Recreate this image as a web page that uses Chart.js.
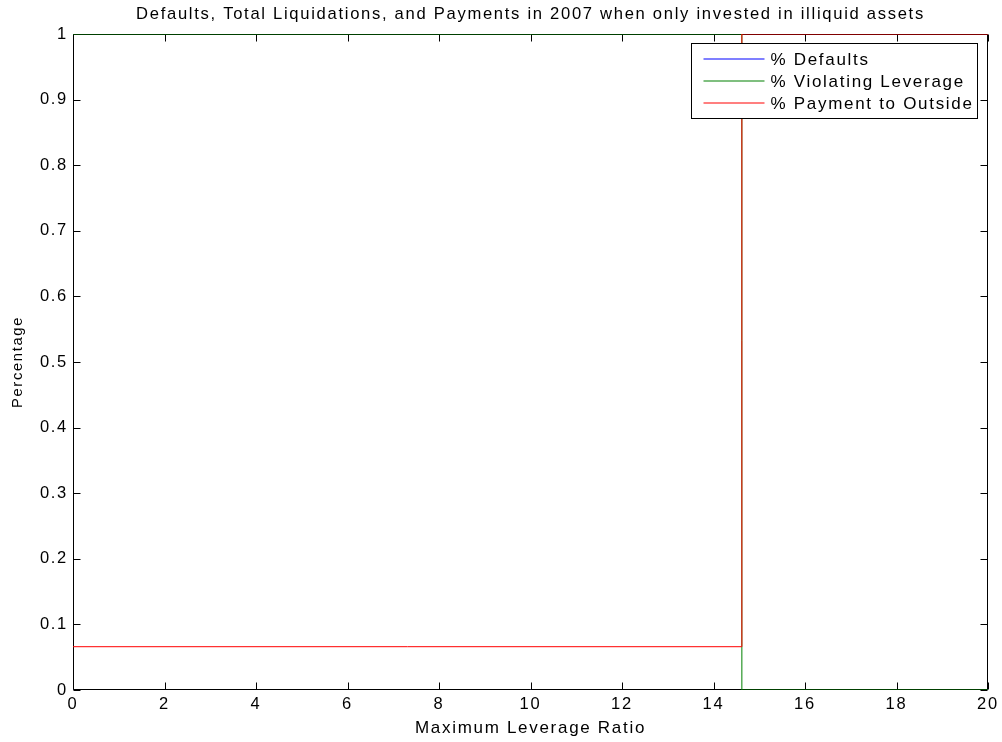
<!DOCTYPE html>
<html>
<head>
<meta charset="utf-8">
<script src="https://cdn.jsdelivr.net/npm/chart.js@4"></script>
<style>
  html, body { margin: 0; padding: 0; background: #fff; }
  #wrap { width: 1002px; height: 742px; }
</style>
</head>
<body>
<div id="wrap"><canvas id="chart" width="1002" height="742"></canvas></div>
<script>
// ---- data ----
const leverage = [0, 14.62, 20];
const pctDefaults = [0, 0, 0];
const pctViolating = [1, 0, 0];
const pctPayment = [0.066, 1, 1];

const seriesNames = ["% Defaults", "% Violating Leverage", "% Payment to Outside"];
const seriesColors = ["#0000ff", "#008000", "#ff0000"];

const FONT = "'Liberation Sans', Arial, Helvetica, sans-serif";
const SPACING = "1.7px";   // the old matlab export renders text quite loose

const toPoints = (ys) => leverage.map((x, i) => ({ x: x, y: ys[i] }));

// widen the glyph spacing for everything chart.js writes
const looseText = {
  id: "looseText",
  beforeUpdate(chart) { chart.ctx.letterSpacing = SPACING; },
  beforeLayout(chart) { chart.ctx.letterSpacing = SPACING; },
  beforeDraw(chart) { chart.ctx.letterSpacing = SPACING; },
};

// MATLAB-ish axes box with inward ticks on all four sides
const boxAxes = {
  id: "boxAxes",
  afterDatasetDraw(chart, args) {
    if (args.index !== 0) return;
    const { ctx, chartArea: a, scales } = chart;
    const L = Math.round(a.left) + 0.5, R = Math.round(a.right) - 0.5;
    const T = Math.round(a.top) + 0.5, B = Math.round(a.bottom) - 0.5;
    const len = 7;
    ctx.save();
    ctx.strokeStyle = "#000";
    ctx.lineWidth = 1;
    ctx.beginPath();
    ctx.rect(L, T, R - L, B - T);
    scales.x.ticks.forEach((t) => {
      const px = Math.round(scales.x.getPixelForValue(t.value)) + 0.5;
      ctx.moveTo(px, B); ctx.lineTo(px, B - len);
      ctx.moveTo(px, T); ctx.lineTo(px, T + len);
    });
    scales.y.ticks.forEach((t) => {
      const py = Math.round(scales.y.getPixelForValue(t.value)) + 0.5;
      ctx.moveTo(L, py); ctx.lineTo(L + len, py);
      ctx.moveTo(R, py); ctx.lineTo(R - len, py);
    });
    ctx.stroke();
    ctx.restore();
  },
};

// legend box inside the top-right corner of the axes
const insideLegend = {
  id: "insideLegend",
  afterDraw(chart) {
    const { ctx, chartArea: a } = chart;
    ctx.save();
    ctx.letterSpacing = SPACING;
    ctx.font = "17px " + FONT;
    const textW = Math.max(...seriesNames.map((n) => ctx.measureText(n).width));
    const w = Math.round(79 + textW + 4);
    const rowH = 22;
    const h = 75;
    const x0 = Math.round(a.right - 11 - w) + 0.5;
    const y0 = Math.round(a.top + 9) + 0.5;
    ctx.fillStyle = "#fff";
    ctx.fillRect(x0, y0, w, h);
    ctx.strokeStyle = "#000";
    ctx.lineWidth = 1;
    ctx.strokeRect(x0, y0, w, h);
    ctx.textBaseline = "middle";
    seriesNames.forEach((name, i) => {
      const cy = Math.round(y0 + 15 + i * rowH);
      ctx.strokeStyle = seriesColors[i];
      ctx.lineWidth = 1.2;
      ctx.beginPath();
      ctx.moveTo(x0 + 12, cy);
      ctx.lineTo(x0 + 73, cy);
      ctx.stroke();
      ctx.fillStyle = "#000";
      ctx.fillText(name, x0 + 79, cy + 1);
    });
    ctx.restore();
  },
};

new Chart(document.getElementById("chart"), {
  type: "line",
  data: {
    datasets: [
      { label: seriesNames[0], data: toPoints(pctDefaults), borderColor: seriesColors[0], order: 3 },
      { label: seriesNames[1], data: toPoints(pctViolating), borderColor: seriesColors[1], order: 2 },
      { label: seriesNames[2], data: toPoints(pctPayment), borderColor: seriesColors[2], order: 1 },
    ],
  },
  options: {
    responsive: false,
    animation: false,
    layout: { padding: { left: 0, right: 14, top: 0, bottom: 0 } },
    elements: {
      point: { radius: 0 },
      line: { borderWidth: 1, stepped: "before", tension: 0, fill: false },
    },
    scales: {
      x: {
        type: "linear",
        min: 0,
        max: 20,
        ticks: { stepSize: 2, color: "#000", font: { family: FONT, size: 16.5 }, padding: 5, maxRotation: 0 },
        grid: { display: false, drawTicks: false },
        border: { display: false },
        title: {
          display: true,
          text: "Maximum Leverage Ratio",
          color: "#000",
          font: { family: FONT, size: 17 },
          padding: { top: 0, bottom: 3 },
        },
        afterFit: (s) => {
          s.height = 52;
          s.paddingLeft = 0;
          s.paddingRight = 0;
        },
      },
      y: {
        min: 0,
        max: 1,
        ticks: {
          stepSize: 0.1,
          color: "#000",
          font: { family: FONT, size: 16.5 },
          padding: 5,
          callback: (v) => String(+v.toFixed(1)),
        },
        grid: { display: false, drawTicks: false },
        border: { display: false },
        title: {
          display: true,
          text: "Percentage",
          color: "#000",
          font: { family: FONT, size: 14.7 },
          padding: { top: 9, bottom: 0 },
        },
        afterFit: (s) => {
          s.width = 73;
          s.paddingTop = 0;
          s.paddingBottom = 0;
        },
      },
    },
    plugins: {
      legend: { display: false },
      tooltip: { enabled: false },
      title: {
        display: true,
        fullSize: false,
        text: "Defaults, Total Liquidations, and Payments in 2007 when only invested in illiquid assets",
        color: "#000",
        font: { family: FONT, size: 16.6, weight: "normal", lineHeight: "20px" },
        padding: { top: 4, bottom: 10 },
      },
    },
  },
  plugins: [looseText, boxAxes, insideLegend],
});
</script>
</body>
</html>
